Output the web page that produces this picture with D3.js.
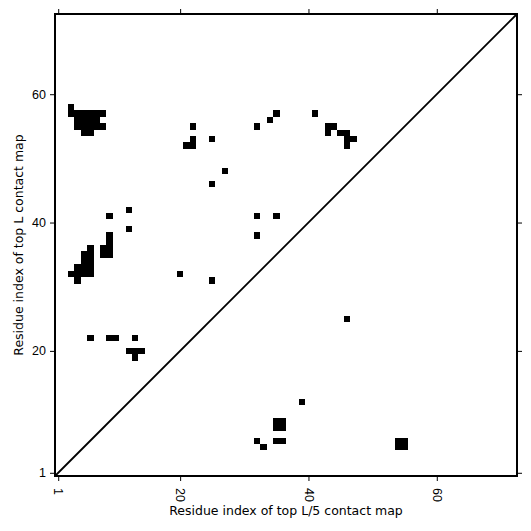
<!DOCTYPE html>
<html>
<head>
	<title>Contact map comparison</title>
	<script src="https://cdnjs.cloudflare.com/ajax/libs/d3/7.8.5/d3.min.js"></script>
	<style type="text/css">
		body {
			margin: 0;
			background: white;
		}
		svg {
			font-family: "DejaVu Sans", sans-serif;
		}
		.axis text {
			font-size: 12.5px;
			fill: black;
		}
		.axis path {
			display: none;
		}
		.axis line {
			stroke: black;
			stroke-width: 1px;
		}
		rect.cell {
			fill: black;
			shape-rendering: crispEdges;
		}
	</style>
</head>
<body>
	<script type="text/javascript">
		// sequence length (residues 1..L)
		var seqLength = 72;
		var tickValues = [1, 20, 40, 60];

		// top L contacts, drawn above the diagonal: [residue on x, residue on y]
		var topLContacts = [
			[3, 58], [3, 57], [4, 57], [5, 57], [6, 57], [7, 57], [8, 57],
			[4, 56], [5, 56], [6, 56], [7, 56],
			[4, 55], [5, 55], [6, 55], [7, 55], [8, 55],
			[5, 54], [6, 54],
			[22, 55], [22, 53], [21, 52], [22, 52], [25, 53],
			[32, 55], [34, 56], [35, 57], [41, 57],
			[43, 55], [44, 55], [43, 54], [45, 54], [46, 54], [46, 53], [47, 53], [46, 52],
			[27, 48], [25, 46],
			[12, 42], [9, 41], [32, 41], [35, 41], [12, 39], [32, 38],
			[9, 38], [9, 37], [9, 36], [9, 35], [8, 36], [8, 35],
			[6, 36], [5, 35], [6, 35], [5, 34], [6, 34],
			[4, 33], [5, 33], [6, 33], [3, 32], [4, 32], [5, 32], [6, 32], [4, 31],
			[20, 32], [25, 31], [46, 25],
			[6, 22], [9, 22], [10, 22], [13, 22],
			[12, 20], [13, 20], [14, 20], [13, 19]
		];

		// top L/5 contacts, drawn below the diagonal
		var topL5Contacts = [
			[39, 12],
			[35, 9], [36, 9], [35, 8], [36, 8],
			[35, 6], [36, 6], [32, 6], [33, 5],
			[54, 6], [55, 6], [54, 5], [55, 5]
		];

		var xTitle = "Residue index of top L/5 contact map";
		var yTitle = "Residue index of top L contact map";

		var margin = {top: 14, right: 14, bottom: 55, left: 55},
			width = 531 - margin.left - margin.right,
			height = 531 - margin.top - margin.bottom;

		var svg = d3.select("body")
			.append("svg")
				.attr("width", 531)
				.attr("height", 531);

		var chart = svg.append("g")
			.attr("transform", "translate(" + margin.left + "," + margin.top + ")");

		var x = d3.scaleLinear()
			.domain([0.5, seqLength + 0.5])
			.range([0, width]);

		var y = d3.scaleLinear()
			.domain([0.5, seqLength + 0.5])
			.range([height, 0]);

		function drawCells(data, cls) {
			chart.selectAll("rect." + cls)
				.data(data)
				.enter()
				.append("rect")
					.attr("class", "cell " + cls)
					.attr("x", function(d) { return x(d[0] - 0.5); })
					.attr("y", function(d) { return y(d[1] + 0.5); })
					.attr("width", function(d) { return x(d[0] + 0.5) - x(d[0] - 0.5); })
					.attr("height", function(d) { return y(d[1] - 0.5) - y(d[1] + 0.5); });
		}

		drawCells(topLContacts, "topL");
		drawCells(topL5Contacts, "topL5");

		// diagonal
		chart.append("line")
			.attr("x1", x(0.5))
			.attr("y1", y(0.5))
			.attr("x2", x(seqLength + 0.5))
			.attr("y2", y(seqLength + 0.5))
			.attr("stroke", "black")
			.attr("stroke-width", 1.8);

		// axes
		chart.append("g")
			.attr("class", "x axis")
			.attr("transform", "translate(0," + height + ")")
			.call(d3.axisBottom(x).tickValues(tickValues).tickSize(5).tickFormat(d3.format("d")))
			.selectAll("text")
				.attr("transform", "rotate(90)")
				.attr("x", 12)
				.attr("y", 0)
				.attr("dy", "0.35em")
				.style("text-anchor", "start");

		chart.append("g")
			.attr("class", "x axis")
			.call(d3.axisTop(x).tickValues(tickValues).tickSize(5).tickFormat(""));

		chart.append("g")
			.attr("class", "y axis")
			.call(d3.axisLeft(y).tickValues(tickValues).tickSize(5).tickPadding(4).tickFormat(d3.format("d")));

		chart.append("g")
			.attr("class", "y axis")
			.attr("transform", "translate(" + width + ",0)")
			.call(d3.axisRight(y).tickValues(tickValues).tickSize(5).tickFormat(""));

		// frame
		chart.append("rect")
			.attr("x", 0)
			.attr("y", 0)
			.attr("width", width)
			.attr("height", height)
			.attr("fill", "none")
			.attr("stroke", "black")
			.attr("stroke-width", 2);

		svg.append("text")
			.attr("x", margin.left + width / 2)
			.attr("y", 515)
			.attr("text-anchor", "middle")
			.style("font-size", "12.5px")
			.text(xTitle);

		svg.append("text")
			.attr("transform", "translate(23," + (margin.top + height / 2) + ") rotate(-90)")
			.attr("text-anchor", "middle")
			.style("font-size", "12.5px")
			.text(yTitle);
	</script>
</body>
</html>
